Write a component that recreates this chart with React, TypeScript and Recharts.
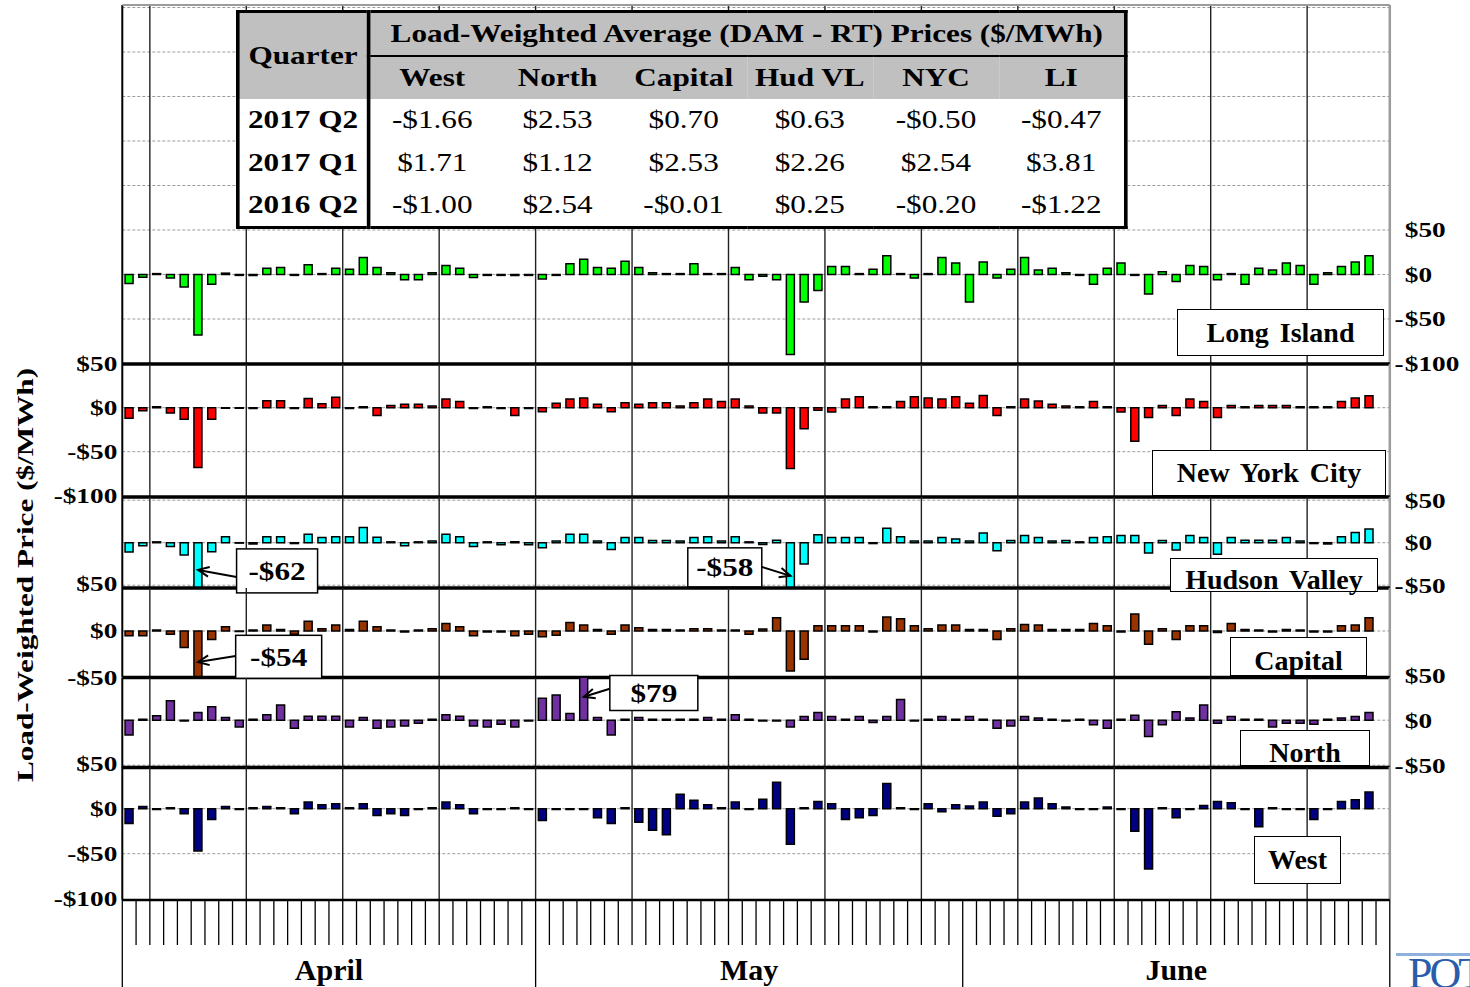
import React from "react";
import { BarChart, Bar, XAxis, YAxis, CartesianGrid, ReferenceLine, ReferenceDot } from "recharts";

// ---- categories ----
const MONTHS = ["April", "May", "June"];
const MONTH_ABBR = ["Apr", "May", "Jun"];
const MONTH_DAYS = [30, 31, 30];
const FIRST_WEEKDAY = 6; // Apr 1 2017 was a Saturday

// ---- daily load-weighted (DAM - RT) price differences, $/MWh ----
const LI = [
  -10, -3, 1, -4, -14, -68, -11, 1.5, -1, -1, 7, 8, -1, 11, 1, 7, 6, 19, 8, 2, -6, -6, 2, 10, 7, -3.5, -1, -1, -1, -1,
  -5, -1, 12, 17, 8, 7, 15, 8, 2, 1, 1, 12, 1, 1, 8, -6, -2, -6, -90, -31, -18, 9, 9, 1, 6, 21, 1, -4, 1, 19, 13,
  -31, 14, -4, 6, 19, 5, 7, 2, -1, -11, 7, 13, -1, -22, 3, -8, 10, 9, -6, 1, -11, 7, 5, 13, 10, -11, 2, 9, 14, 21,
];
const NYC = [
  -12, -3.5, 1, -6, -13, -68, -13, -0.5, -0.5, -1, 8, 8, -1, 10.5, 4.5, 12, -1, 1, -9, 2.5, 4, 4, 2, 10, 7, -1, 1, -1, -9, -1,
  -4.5, 5, 10, 11, 4, -4.5, 5.5, 4, 5.5, 5.5, 2, 5.5, 10, 7, 10, 2, -6, -6, -69, -24, -3, -5, 10, 12.5, 1, 1, 7, 12.5, 11, 10, 12.5,
  5, 14, -9, 1, 10, 7.5, 4, 2, 1, 7, 1, -5, -38, -11, 2.5, -9, 10, 7, -11, 2.5, 1, 2.5, 2.5, 2.5, 1, 1, 1, 7, 11, 13.5,
];
const HUD = [
  -11, -3.5, 1, -4.5, -14.5, -62, -10.5, 7, -0.5, -1.5, 7, 7, -1, 10, 6, 7, 7, 18, 6.5, 1, -3.5, 1, 2, 10, 7, -4.5, 1, -2.5, 1, -2.5,
  -6, 2, 10, 10, 2, -8, 6, 6, 2.5, 2.5, 2, 6, 7, 2, 7, 1, -2, 3, -58, -25, 9.5, 6, 6, 6, -1, 17, 7, 2, 2, 6, 4.5,
  2, 11.5, -9.5, 2.5, 8.5, 6, 2, 2.5, 1, 6, 7, 8.5, 8.5, -12, 2.5, -8.5, 8.5, 6, -13.5, 6, 3, 3, 3, 6, 2, -1, -1.5, 7, 12, 16,
];
const CAPITAL = [
  -5, -5, 1, -3.5, -17.5, -54, -9, 4.5, -0.5, 1, 6.5, 1.5, -3.5, 10.5, 2.5, 6.5, 1.5, 10.5, 4.5, 1, -1, 1, 2.5, 8, 4.5, -5, -1, -1, -5, -3.5,
  -6, -4.5, 9, 6.5, 1.5, -3.5, 6.5, 3.5, 1.5, 1.5, 1, 2.5, 2.5, 1, 1, -3.5, 2, 14, -42.5, -30, 5.5, 5.5, 5.5, 5.5, -1, 15, 13, 5.5, 2.5, 6.5, 6.5,
  1.5, 1.5, -9, 2.5, 7, 6.5, 1.5, 1.5, 1.5, 8, 5.5, -1, 18, -14, 2.5, -9, 5.5, 5.5, -1.5, 8, 1.5, 1, -1, 1.5, 1, -1, -1, 5.5, 6.5, 14,
];
const NORTH = [
  -16.5, 1, 5, 21.5, -1, 8.5, 15, 3, -7.5, 1, 6, 17, -9, 4.5, 4.5, 4.5, -7.5, 3, -9, -7.5, -6.5, -3.5, 1, 6, 4.5, -6.5, -7.5, -4.5, -7.5, -1,
  24.5, 28, 7.5, 79, 3, -16.5, 1, 3, 1, 1, 1, 1, 3, 1, 6, 1, -1, -1, -7.5, 4, 8.5, 4, 1, 4, -2.5, 4, 23, -1, 1, 4, 1,
  4, 1, -9, -6.5, 4, 2.5, 1, -1, 1, -5, -9, 1, 5.5, -18, -5, 9.5, 2.5, 17, -3.5, 4, 1, 1, -7.5, -3.5, -3.5, -4.5, 1, 2.5, 4, 8.5,
];
const WEST = [
  -16.5, 2.5, -1, 1, -5.5, -47, -12, 2.5, -1, 1, 2.5, 1, -5.5, 7.5, 4.5, 5.5, 1, 5.5, -7.5, -5.5, -7.5, -1, 1, 7.5, 4.5, -5.5, -1, -1, 1, -1,
  -13, -1, -1, -1, -10, -16.5, 1, -15, -24, -29, 16, 9.5, 4.5, 1, 7.5, -1, 10.5, 29.5, -39.5, 1, 8, 5.5, -12, -10, -7.5, 28, 1, -1, 5.5, -3.5, 4.5,
  3, 7.5, -8.5, -5.5, 7.5, 12, 5.5, 2, -1, -1, 2, -1, -25, -67, 1, -10, -1, 3.5, 8, 6.5, -1, -20, 1, -1, -1, -12, -1, 8, 10, 18.5,
];

// ---- quarterly table ----
const QUARTERS = ["2017 Q2", "2017 Q1", "2016 Q2"];
const ZONES = ["West", "North", "Capital", "Hud VL", "NYC", "LI"];
const QUARTER_AVG = [
  [-1.66, 2.53, 0.7, 0.63, -0.5, -0.47],
  [1.71, 1.12, 2.53, 2.26, 2.54, 3.81],
  [-1.0, 2.54, -0.01, 0.25, -0.2, -1.22],
];

// ---- callouts for clipped bars ----
const CALLOUTS = [
  { panel: "hv", day: 5, text: "-$62", tip: -32 },
  { panel: "hv", day: 48, text: "-$58", tip: -39 },
  { panel: "cap", day: 5, text: "-$54", tip: -33 },
  { panel: "north", day: 33, text: "$79", tip: 26 },
];

// ---------------- layout ----------------
const W = 1470;
const H = 987;
const PLOT_L = 122.3;
const PLOT_R = 1389.8;
const PAD = 22;
const DAY_AXIS_H = 45;
const MONTH_AXIS_H = 42;
const SERIF = '"Liberation Serif", "Times New Roman", serif';
const STRETCH = 1.3;
const TABLE_STRETCH = 1.2;

const CALLOUT_LAYOUT: Record<string, { dx: number; dy: number; w: number; h: number; sdy: number }> = {
  "-$62": { dx: 38.5, dy: -21, w: 81, h: 44, sdy: 7 },
  "-$58": { dx: -102.7, dy: -28, w: 74, h: 39, sdy: -9 },
  "-$54": { dx: 37.6, dy: -26.7, w: 86, h: 43, sdy: -6 },
  $79: { dx: 26, dy: -21.3, w: 88, h: 35, sdy: -8 },
};

const PANELS = [
  { key: "li", color: "#00ff00", top: 5, bottom: 364, zero: 274.5, ppu: 0.89, side: "right", ticks: [50, 0, -50, -100], grid: [300, 250, 200, 150, 100, 50, 0, -50], sep: true, first: true, last: false },
  { key: "nyc", color: "#ff0000", top: 364, bottom: 497, zero: 407.7, ppu: 0.88, side: "left", ticks: [50, 0, -50, -100], grid: [0, -50], sep: true, first: false, last: false },
  { key: "hv", color: "#00ffff", top: 497, bottom: 588, zero: 542.7, ppu: 0.85, side: "right", ticks: [50, 0, -50], grid: [50, 0, -50], sep: true, first: false, last: false },
  { key: "cap", color: "#993300", top: 588, bottom: 677.5, zero: 631, ppu: 0.94, side: "left", ticks: [50, 0, -50], grid: [0], sep: true, first: false, last: false },
  { key: "north", color: "#7030a0", top: 677.5, bottom: 767, zero: 719.7, ppu: 0.9, side: "right", ticks: [50, 0, -50], grid: [0, -50], sep: true, first: false, last: false },
  { key: "west", color: "#000080", top: 767, bottom: 900, zero: 808.7, ppu: 0.9, side: "left", ticks: [50, 0, -50, -100], grid: [0, -50], sep: false, first: false, last: true },
];

const LABEL_BOXES = [
  { text: "Long Island", left: 1177, top: 309, w: 207, h: 47, oy: 0 },
  { text: "New York City", left: 1152, top: 450, w: 234, h: 46, oy: 0 },
  { text: "Hudson Valley", left: 1170, top: 558, w: 208, h: 34, oy: 5 },
  { text: "Capital", left: 1230, top: 637, w: 137, h: 39, oy: 4 },
  { text: "North", left: 1240, top: 730, w: 130, h: 36, oy: 5 },
  { text: "West", left: 1254, top: 836, w: 87, h: 48, oy: 0 },
];

// ---------------- derived tables ----------------
const DAYS: string[] = MONTH_ABBR.flatMap((m, i) =>
  Array.from({ length: MONTH_DAYS[i] }, (_, d) => `${m} ${d + 1}`)
).concat(["Jul 1"]); // empty trailing slot, as in the source chart
const N_SLOTS = DAYS.length;
const HALF = (PLOT_R - PLOT_L) / N_SLOTS / 2;

const rows = DAYS.map((day, i) => ({
  day,
  li: LI[i],
  nyc: NYC[i],
  hv: HUD[i],
  cap: CAPITAL[i],
  north: NORTH[i],
  west: WEST[i],
}));

const mondays = DAYS.filter((_, i) => i > 0 && (FIRST_WEEKDAY + i) % 7 === 1);
const monthStarts = MONTH_DAYS.reduce<number[]>((acc, n) => [...acc, acc[acc.length - 1] + n], [0]).slice(0, -1);
// the last month block runs to the end of the axis (includes the trailing slot)
const monthMids = monthStarts.map((s, i) => (s + (i + 1 < monthStarts.length ? monthStarts[i + 1] : N_SLOTS)) / 2);

function money(v: number, digits = 0) {
  const s = Math.abs(v).toFixed(digits);
  return v < 0 ? `-$${s}` : `$${s}`;
}

// ---------------- ticks ----------------
function LeftTick({ x, y, payload }: any) {
  return (
    <text
      transform={`translate(${x},${y}) scale(${STRETCH},1)`}
      textAnchor="end"
      dy="0.35em"
      fontSize={21}
      fontWeight="bold"
      fontFamily={SERIF}
      fill="#000"
    >
      {money(payload.value)}
    </text>
  );
}

function RightTick({ x, y, payload }: any) {
  const v = payload.value as number;
  const common = { dy: "0.35em", fontSize: 21, fontWeight: "bold", fontFamily: SERIF, fill: "#000" };
  return (
    <g transform={`translate(${x},${y}) scale(${STRETCH},1)`}>
      {v < 0 && (
        <text x={-1} textAnchor="end" {...common}>
          -
        </text>
      )}
      <text x={0} textAnchor="start" {...common}>
        {`$${Math.abs(v)}`}
      </text>
    </g>
  );
}

function DayTick({ x, y, payload }: any) {
  const i = DAYS.indexOf(payload.value);
  return (
    <g>
      <line x1={x - HALF} y1={y} x2={x - HALF} y2={y + DAY_AXIS_H} stroke="#000" strokeWidth={1.3} />
      {i === N_SLOTS - 1 && (
        <line x1={x + HALF} y1={y} x2={x + HALF} y2={y + DAY_AXIS_H} stroke="#000" strokeWidth={1.3} />
      )}
    </g>
  );
}

function MonthTick({ x, y, payload }: any) {
  const i = DAYS.indexOf(payload.value);
  const mi = monthMids.findIndex((m) => Math.floor(m) === i);
  return (
    <g>
      {monthStarts.includes(i) && (
        <line x1={x - HALF} y1={y} x2={x - HALF} y2={y + MONTH_AXIS_H} stroke="#000" strokeWidth={1.3} />
      )}
      {i === N_SLOTS - 1 && (
        <line x1={x + HALF} y1={y} x2={x + HALF} y2={y + MONTH_AXIS_H} stroke="#000" strokeWidth={1.3} />
      )}
      {mi >= 0 && (
        <text
          x={x - HALF + (monthMids[mi] - i) * 2 * HALF}
          y={y + 35}
          textAnchor="middle"
          fontSize={30}
          fontWeight="bold"
          fontFamily={SERIF}
          fill="#000"
        >
          {MONTHS[mi]}
        </text>
      )}
    </g>
  );
}

function Callout({ cx, cy, text }: any) {
  const L = CALLOUT_LAYOUT[text];
  const bx = cx + L.dx;
  const by = cy + L.dy;
  const sx = L.dx > 0 ? bx : bx + L.w;
  const sy = cy + L.sdy;
  const ang = Math.atan2(cy - sy, cx - sx);
  const hl = 12;
  const sp = 0.42;
  const p1 = `${cx - hl * Math.cos(ang - sp)},${cy - hl * Math.sin(ang - sp)}`;
  const p2 = `${cx - hl * Math.cos(ang + sp)},${cy - hl * Math.sin(ang + sp)}`;
  return (
    <g>
      <line x1={sx} y1={sy} x2={cx} y2={cy} stroke="#000" strokeWidth={2} />
      <polyline points={`${p1} ${cx},${cy} ${p2}`} fill="none" stroke="#000" strokeWidth={2} />
      <rect x={bx} y={by} width={L.w} height={L.h} fill="#fff" stroke="#000" strokeWidth={1.5} />
      <text
        transform={`translate(${bx + L.w / 2},${by + L.h / 2}) scale(1.2,1)`}
        textAnchor="middle"
        dy="0.35em"
        fontSize={26}
        fontWeight="bold"
        fontFamily={SERIF}
        fill="#000"
      >
        {text}
      </text>
    </g>
  );
}

function Panel({ p }: { p: (typeof PANELS)[number] }) {
  const lo = -(p.bottom - p.zero) / p.ppu;
  const hi = (p.zero - p.top) / p.ppu;
  const left = p.side === "left";
  const callouts = CALLOUTS.filter((c) => c.panel === p.key);
  const bottomSpace = p.last ? DAY_AXIS_H + MONTH_AXIS_H : PAD;
  return (
    <div style={{ position: "absolute", left: 0, top: p.top - PAD }}>
      <BarChart
        width={W}
        height={p.bottom - p.top + PAD + bottomSpace}
        data={rows}
        margin={{ top: PAD, bottom: p.last ? 0 : PAD, left: left ? 0 : PLOT_L, right: left ? W - PLOT_R : 0 }}
        barCategoryGap="20%"
      >
        <CartesianGrid horizontal vertical={false} horizontalValues={p.grid} stroke="#9a9a9a" strokeDasharray="3 2" />
        {p.last ? (
          <XAxis
            dataKey="day"
            interval={0}
            height={DAY_AXIS_H}
            tickSize={0}
            tickMargin={0}
            tickLine={false}
            axisLine={{ stroke: "#000", strokeWidth: 2.5 }}
            tick={<DayTick />}
          />
        ) : (
          <XAxis dataKey="day" hide />
        )}
        {p.last && (
          <XAxis
            xAxisId="m"
            dataKey="day"
            interval={0}
            height={MONTH_AXIS_H}
            tickSize={0}
            tickMargin={0}
            tickLine={false}
            axisLine={false}
            tick={<MonthTick />}
          />
        )}
        <YAxis
          orientation={left ? "left" : "right"}
          width={left ? PLOT_L : W - PLOT_R}
          domain={[lo, hi]}
          allowDataOverflow
          ticks={p.ticks}
          interval={0}
          axisLine={false}
          tickLine={false}
          tickSize={0}
          tickMargin={left ? 5 : 15}
          tick={left ? <LeftTick /> : <RightTick />}
        />
        {mondays.map((d) => (
          <ReferenceLine key={d} x={d} position="start" stroke="#222" strokeWidth={1.4} />
        ))}
        <ReferenceLine x={DAYS[0]} position="start" stroke="#000" strokeWidth={2} />
        <ReferenceLine x={DAYS[N_SLOTS - 1]} position="end" stroke="#9b9b9b" strokeWidth={2.5} />
        {p.first && <ReferenceLine y={hi} stroke="#9b9b9b" strokeWidth={2} />}
        <Bar dataKey={p.key} fill={p.color} stroke="#000" strokeWidth={1.5} isAnimationActive={false} />
        {p.sep && <ReferenceLine y={lo} stroke="#000" strokeWidth={3.5} />}
        {callouts.map((c) => (
          <ReferenceDot
            key={c.text}
            x={DAYS[c.day]}
            y={c.tip}
            r={0}
            shape={(props: any) => <Callout cx={props.cx} cy={props.cy} text={c.text} />}
          />
        ))}
      </BarChart>
    </div>
  );
}

function QuarterTable() {
  const cell: React.CSSProperties = { textAlign: "center", padding: 0, whiteSpace: "nowrap" };
  const grey = "#c0c0c0";
  return (
    <div
      style={{
        position: "absolute",
        left: 236,
        top: 10,
        width: 891 / TABLE_STRETCH,
        height: 218,
        transform: `scaleX(${TABLE_STRETCH})`,
        transformOrigin: "0 0",
        background: "#fff",
      }}
    >
      <table
        style={{
          borderCollapse: "collapse",
          width: "100%",
          height: "100%",
          tableLayout: "fixed",
          border: "3px solid #000",
          fontFamily: SERIF,
          fontSize: 26,
          color: "#000",
        }}
      >
        <tbody>
          <tr style={{ height: 44 }}>
            <td rowSpan={2} style={{ ...cell, background: grey, fontWeight: "bold", borderRight: "3px solid #000", width: "14.3%" }}>
              Quarter
            </td>
            <td colSpan={6} style={{ ...cell, background: grey, fontWeight: "bold", borderBottom: "2px solid #000" }}>
              Load-Weighted Average (DAM - RT) Prices ($/MWh)
            </td>
          </tr>
          <tr style={{ height: 43 }}>
            {ZONES.map((z) => (
              <td key={z} style={{ ...cell, background: grey, fontWeight: "bold" }}>
                {z}
              </td>
            ))}
          </tr>
          {QUARTERS.map((q, qi) => (
            <tr key={q} style={{ height: 43 }}>
              <td style={{ ...cell, fontWeight: "bold", borderRight: "3px solid #000" }}>{q}</td>
              {QUARTER_AVG[qi].map((v, zi) => (
                <td key={zi} style={cell}>
                  {money(v, 2)}
                </td>
              ))}
            </tr>
          ))}
        </tbody>
      </table>
    </div>
  );
}

export default function App() {
  return (
    <div
      style={{
        position: "absolute",
        left: 0,
        top: 0,
        width: W,
        height: H,
        overflow: "hidden",
        background: "#fff",
        fontFamily: SERIF,
      }}
    >
      {PANELS.map((p) => (
        <Panel key={p.key} p={p} />
      ))}

      <QuarterTable />

      {LABEL_BOXES.map((b) => (
        <div
          key={b.text}
          style={{
            position: "absolute",
            left: b.left,
            top: b.top,
            width: b.w,
            height: b.h,
            boxSizing: "border-box",
            border: "1.5px solid #000",
            background: "#fff",
            display: "flex",
            alignItems: "center",
            justifyContent: "center",
            fontSize: 28,
            fontWeight: "bold",
            lineHeight: 1,
            wordSpacing: 4,
            whiteSpace: "nowrap",
          }}
        >
          <span style={{ position: "relative", top: b.oy }}>{b.text}</span>
        </div>
      ))}

      {/* y-axis title */}
      <div style={{ position: "absolute", left: 25, top: 575, width: 0, height: 0 }}>
        <div
          style={{
            position: "absolute",
            left: 0,
            top: 0,
            whiteSpace: "nowrap",
            fontSize: 24,
            fontWeight: "bold",
            lineHeight: 1,
            transform: `translate(-50%,-50%) rotate(-90deg) scaleX(${STRETCH})`,
          }}
        >
          Load-Weighted Price ($/MWh)
        </div>
      </div>

      {/* logo fragment, bottom right */}
      <div style={{ position: "absolute", left: 1396, top: 953, width: 80, height: 3, background: "#8fb0dd" }} />
      <div
        style={{
          position: "absolute",
          left: 1408,
          top: 952,
          fontSize: 44,
          color: "#2a5caa",
          fontFamily: SERIF,
          letterSpacing: -3,
          lineHeight: 1,
        }}
      >
        POT
      </div>
    </div>
  );
}
